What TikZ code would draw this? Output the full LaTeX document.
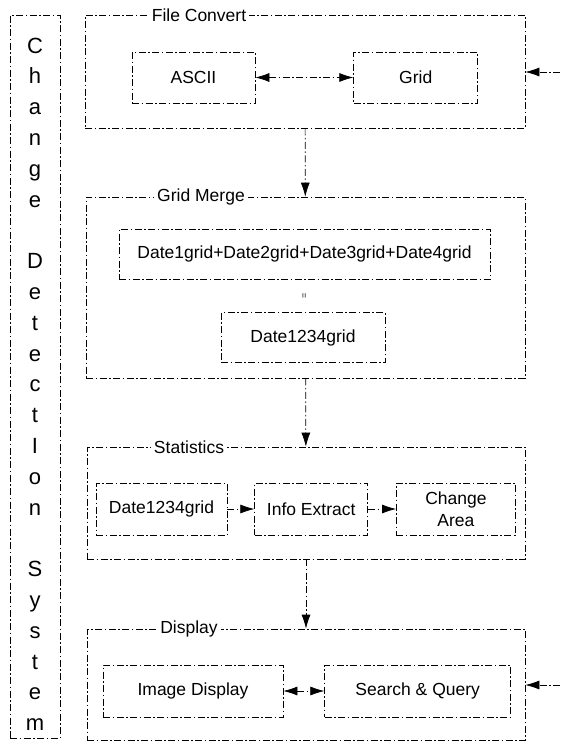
\documentclass[tikz,border=0pt]{standalone}
\usepackage{fontspec}
\setmainfont{Liberation Sans}
\usetikzlibrary{arrows.meta,positioning}

\begin{document}
\begin{tikzpicture}[x=1pt,y=-1pt,
node distance=27pt,
dashdot/.style={dash pattern=on 7pt off 2.5pt on 1.5pt off 2.5pt,line width=0.7pt},
frame/.style={draw,dashdot,inner sep=0pt,minimum width=439pt},
box/.style={draw,dashdot,align=center,inner sep=0pt,minimum height=51pt,font=\fontsize{17.5pt}{22pt}\selectfont},
tag/.style={fill=white,inner sep=3pt,font=\fontsize{17.5pt}{21pt}\selectfont},
letter/.style={inner sep=0pt,text height=16pt,text depth=0pt,font=\fontsize{22pt}{26pt}\selectfont},
arr/.style={dashdot,-{Latex[length=14pt,width=9pt]}},
darr/.style={dashdot,{Latex[length=14pt,width=9pt]}-{Latex[length=14pt,width=9pt]}}]
\useasboundingbox (0,0) rectangle (560,744);

% frames
\node[frame,minimum width=50pt,minimum height=723pt] (sys) at (35,376.5) {};
\node[frame,minimum width=440pt,minimum height=113pt] (fc) at (305,71.5) {};
\node[frame,minimum height=181pt] (gm) at (305.5,287.5) {};
\node[frame,minimum width=438pt,minimum height=112pt] (st) at (306,503) {};
\node[frame,minimum width=438pt,minimum height=111pt] (dp) at (306,684.5) {};

% frame titles
\node[tag] (fct) at (199,15) {File Convert};
\node[tag] (gmt) at (201,197) {Grid Merge};
\node[tag] (stt) at (189,447) {Statistics};
\node[tag] (dpt) at (189,629) {Display};

% system name, one letter per line
\foreach \ch [count=\i] in {C,h,a,n,g,e,{},D,e,t,e,c,t,I,o,n,{},S,y,s,t,e,m}
  \node[letter] (ch\i) at (35,{45+30.8*(\i-1)}) {\ch};

% file convert
\node[box,minimum width=123pt] (ascii) at (193.5,77.5) {ASCII};
\node[box,minimum width=124pt,right=98pt of ascii] (grid) {Grid};

% grid merge
\node[box,minimum width=371pt,minimum height=50pt] (sum) at (304.5,254) {Date1grid+Date2grid+Date3grid+Date4grid};
\node[box,minimum width=164pt,minimum height=50pt,below=33pt of sum,xshift=-1.5pt] (merged) {Date1234grid};
\node[rotate=90,inner sep=0pt,font=\small] (eq) at (305,296) {=};

% statistics
\node[box,minimum width=131pt,minimum height=52pt] (grid1234) at (161.5,509) {Date1234grid};
\node[box,minimum width=113pt,minimum height=52pt,right=of grid1234] (info) {Info Extract};
\node[box,minimum width=119pt,minimum height=52pt,right=28pt of info] (area) {Change\\Area};

% display
\node[box,minimum width=180pt,minimum height=52pt] (imgd) at (193,691) {Image Display};
\node[box,minimum width=186pt,minimum height=52pt,right=41pt of imgd] (query) {Search \& Query};

\coordinate (in1) at (560,72);
\coordinate (in2) at (560,685);
\draw[darr] (ascii) -- (grid);
\draw[arr] (in1) -- (in1 -| fc.east);
\draw[arr] (fc) -- (gm);
\draw[arr] (gm) -- (st);
\draw[arr] (st) -- (dp);
\draw[arr] (grid1234) -- (info);
\draw[arr] (info) -- (area);
\draw[darr] (imgd) -- (query);
\draw[arr] (in2) -- (in2 -| dp.east);
\end{tikzpicture}
\end{document}
